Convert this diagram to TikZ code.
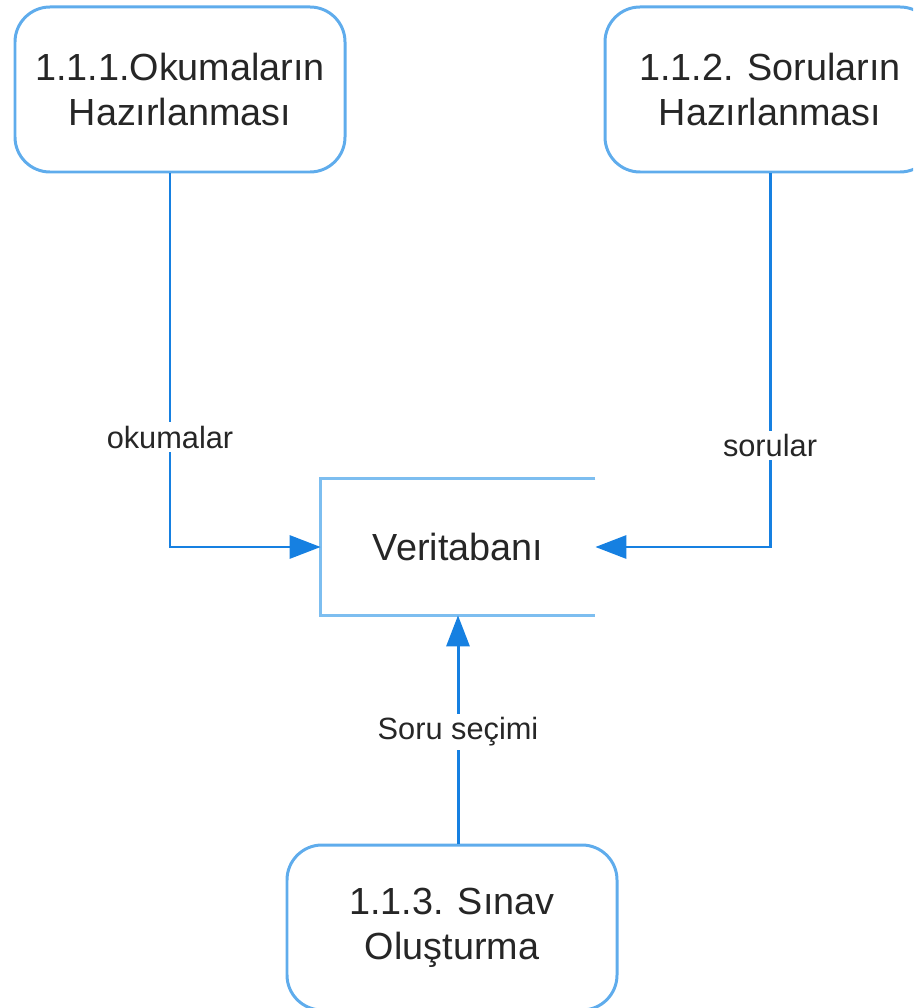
\documentclass[tikz,border=0pt]{standalone}
\usepackage{fontspec}
\setmainfont{Liberation Sans}
\usetikzlibrary{positioning,arrows.meta}
\definecolor{boxblue}{RGB}{95,172,236}
\definecolor{storeblue}{RGB}{125,190,240}
\definecolor{flowblue}{RGB}{22,128,225}
\newcommand\boxw{6.6cm}
\newcommand\boxh{3.3cm}
\newcommand\storew{5.48cm}
\newcommand\storeh{2.72cm}

\tikzset{
  process/.style={draw=boxblue, line width=1.7pt, rounded corners=0.7cm,
    minimum width=\boxw, minimum height=\boxh, align=center,
    font=\fontsize{21.5}{25.6}\selectfont, text=black!85},
  store/.style={minimum width=\storew, minimum height=\storeh,
    font=\fontsize{21.5}{25.6}\selectfont, text=black!85},
  flow/.style={draw=flowblue, line width=1.7pt,
    -{Triangle[length=0.62cm,width=0.46cm]}},
  flowlabel/.style={fill=white, inner sep=2pt,
    font=\fontsize{17.5}{20}\selectfont, text=black!85}
}

\begin{document}
\begin{tikzpicture}
  \clip (0,0) rectangle (18.26,-20.16);
  % processes
  \node[process] (okuma) at (3.6,-1.79) {1.1.1.Okumaların\\Hazırlanması};
  \node[process] (soru) at (15.4,-1.79) {1.1.2. Soruların\\Hazırlanması};
  \node[process] (sinav) at (9.04,-18.55) {1.1.3. Sınav\\Oluşturma};
  % data store
  \node[store] (vt) at (9.16,-10.94) {Veritabanı};
  \draw[storeblue, line width=1.7pt]
    (vt.north east) -- (vt.north west) -- (vt.south west) -- (vt.south east);

  % flows
  \draw[flow] ([xshift=-0.2cm]okuma.south) |- (vt.west)
    node[flowlabel, pos=0.353] {okumalar};
  \draw[flow] (soru.south) |- (vt.east)
    node[flowlabel, pos=0.364] {sorular};
  \draw[flow] (vt.south |- sinav.north) -- (vt.south)
    node[flowlabel, pos=0.49] {Soru seçimi};
\end{tikzpicture}
\end{document}
